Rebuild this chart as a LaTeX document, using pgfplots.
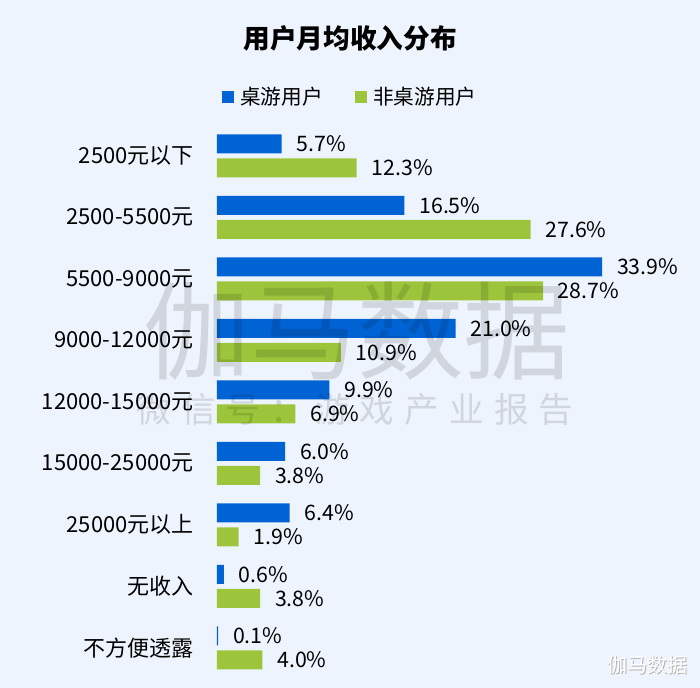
\documentclass[border=0pt]{standalone}
\usepackage{pgfplots}
\pgfplotsset{compat=1.18}
\usepackage{fontspec}
\setmainfont{Noto Sans CJK SC}
\definecolor{bg}{HTML}{EEF4FD}
\definecolor{cblue}{HTML}{0063D3}
\definecolor{cgreen}{HTML}{9DC53B}
\begin{document}
\begin{tikzpicture}[x=0.75pt,y=0.75pt]
\fill[bg] (0,0) rectangle (700,688);
\useasboundingbox (0,0) rectangle (700,688);
% title
\node[font=\fontsize{20}{24}\selectfont\bfseries] at (350,650) {用户月均收入分布};
% legend
\fill[cblue] (222,585) rectangle (234,597);
\node[anchor=west,font=\fontsize{15.5}{18}\selectfont,inner sep=0pt] at (240,591) {桌游用户};
\fill[cgreen] (355,585) rectangle (367,597);
\node[anchor=west,font=\fontsize{15.5}{18}\selectfont,inner sep=0pt] at (373,591) {非桌游用户};
\begin{axis}[
  at={(191,15.25)}, anchor=south west,
  scale only axis,
  width=340.8pt, height=415.125pt,
  xmin=0, xmax=40, ymin=-0.5, ymax=8.5,
  xbar, bar width=14.25pt,
  axis line style={draw=none},
  hide x axis,
  ytick={0,1,2,3,4,5,6,7,8},
  yticklabels={不方便透露,无收入,25000元以上,15000-25000元,12000-15000元,9000-12000元,5500-9000元,2500-5500元,2500元以下},
  ytick style={draw=none},
  yticklabel style={font=\fontsize{16.5}{19}\selectfont, anchor=east, inner sep=0pt, xshift=-13pt},
  nodes near coords={\pgfmathprintnumber[fixed,zerofill,precision=1,assume math mode=true]{\pgfplotspointmeta}\%},
  nodes near coords style={font=\fontsize{16}{19}\selectfont, anchor=west, inner sep=0pt, xshift=11pt},
  point meta=explicit,
  clip=false,
]
\addplot[fill=cblue, draw=none, bar shift=9pt] coordinates {
 (5.7,8) [5.7] (16.5,7) [16.5] (33.9,6) [33.9] (21.0,5) [21.0] (9.9,4) [9.9]
 (6.0,3) [6.0] (6.4,2) [6.4] (0.6,1) [0.6] (0.1,0) [0.1]};
\addplot[fill=cgreen, draw=none, bar shift=-9pt] coordinates {
 (12.3,8) [12.3] (27.6,7) [27.6] (28.7,6) [28.7] (10.9,5) [10.9] (6.9,4) [6.9]
 (3.8,3) [3.8] (1.9,2) [1.9] (3.8,1) [3.8] (4.0,0) [4.0]};
\end{axis}
% watermarks
\node[text=black, text opacity=0.12, font=\fontsize{80}{90}\selectfont] at (357,357) {伽马数据};
\node[text=black, text opacity=0.12, font=\fontsize{26}{30}\selectfont\addfontfeatures{LetterSpace=29}] at (355,279) {微信号：游戏产业报告};
\node[text=gray!60, font=\fontsize{15}{18}\selectfont, anchor=east] at (692.8,22.2) {伽马数据};
\node[text=white, font=\fontsize{15}{18}\selectfont, anchor=east] at (692,23) {伽马数据};
\end{tikzpicture}
\end{document}
